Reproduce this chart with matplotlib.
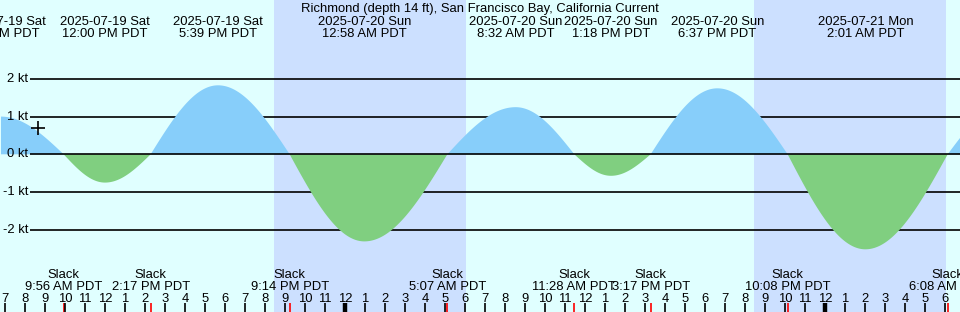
import numpy as np
import matplotlib
matplotlib.use("Agg")
import matplotlib.pyplot as plt
import matplotlib.transforms as mtransforms
from datetime import datetime, timedelta

# ---------------- data ----------------
title = "Richmond (depth 14 ft), San Francisco Bay, California Current"
t0 = datetime(2025, 7, 19, 0, 0)
view_start = "2025-07-19 06:45"
view_end = "2025-07-21 06:45"

# current extremes (flood +, ebb -) and slack waters
extreme_times = ["2025-07-19 06:48", "2025-07-19 12:00", "2025-07-19 17:39",
                 "2025-07-20 00:58", "2025-07-20 08:32", "2025-07-20 13:18",
                 "2025-07-20 18:37", "2025-07-21 02:01", "2025-07-21 09:20"]
extreme_values = [1.00, -0.75, 1.83, -2.31, 1.25, -0.57, 1.75, -2.52, 1.45]
slack_times = ["2025-07-19 09:56", "2025-07-19 14:17", "2025-07-19 21:14",
               "2025-07-20 05:07", "2025-07-20 11:28", "2025-07-20 15:17",
               "2025-07-20 22:08", "2025-07-21 06:08"]
sunsets = ["2025-07-19 20:27", "2025-07-20 20:27"]
sunrises = ["2025-07-20 06:03", "2025-07-21 06:03"]
marker_time = "2025-07-19 08:39"
marker_value = 0.69
grid_levels = [2, 1, 0, -1, -2]

# ---------------- helpers ----------------
def parse(s):
    return datetime.strptime(s, "%Y-%m-%d %H:%M")

def hrs(s):
    return (parse(s) - t0).total_seconds() / 3600.0

def fmt_time(d):
    h = d.hour % 12
    if h == 0:
        h = 12
    return f"{h}:{d.minute:02d} {'AM' if d.hour < 12 else 'PM'} PDT"

# build piecewise-sine current curve from events
events = sorted([(hrs(s), v) for s, v in zip(extreme_times, extreme_values)] +
                [(hrs(s), 0.0) for s in slack_times])
ev_t = np.array([e[0] for e in events])
ev_v = np.array([e[1] for e in events])
tt = np.linspace(ev_t[0], ev_t[-1], 4000)
vv = np.zeros_like(tt)
for i in range(len(ev_t) - 1):
    a, b = ev_t[i], ev_t[i + 1]
    m = (tt >= a) & (tt <= b)
    f = (tt[m] - a) / (b - a)
    if ev_v[i] == 0:
        vv[m] = ev_v[i + 1] * np.sin(np.pi / 2 * f)
    else:
        vv[m] = ev_v[i] * np.cos(np.pi / 2 * f)

# ---------------- figure ----------------
W, H = 960, 312
FS = 9.4
plt.rcParams['font.family'] = ['Liberation Sans', 'DejaVu Sans']
fig = plt.figure(figsize=(W / 100, H / 100), dpi=100)
ax = fig.add_axes([0, 0, 1, 1])
ax.set_axis_off()

x0, x1 = hrs(view_start), hrs(view_end)
px_per_kt = 37.7
zero_px = 154.3
ax.set_xlim(x0, x1)
ax.set_ylim((zero_px - H) / px_per_kt, zero_px / px_per_kt)

bg = "#e0ffff"
night = "#cce0ff"
flood = "#87cefa"
ebb = "#80cf80"
fig.patch.set_facecolor(bg)
ax.add_patch(plt.Rectangle((0, 0), 1, 1, transform=ax.transAxes, color=bg, zorder=0))

for s, r in zip(sunsets, sunrises):
    ax.axvspan(hrs(s), hrs(r), color=night, zorder=1, lw=0)

trans = mtransforms.blended_transform_factory(ax.transData, ax.transAxes)
def yf(p):
    return 1 - p / H

# grid lines
for g in grid_levels:
    ax.plot([x0 + 30 / 20, x1], [g, g], color="black", lw=1.2, zorder=2 if g != 0 else 4,
            solid_capstyle="butt")
    ax.text(x0 + 28 / 20, g, f"{g} kt", ha="right", va="center", fontsize=FS, zorder=5)

ax.fill_between(tt, 0, vv, where=vv >= 0, interpolate=True, color=flood, lw=0, zorder=3)
ax.fill_between(tt, 0, vv, where=vv <= 0, interpolate=True, color=ebb, lw=0, zorder=3)

ax.plot([hrs(marker_time)], [marker_value], marker="+", color="black", ms=10, mew=1.2, zorder=6)

# title
ax.text(0.5, yf(12), title, transform=ax.transAxes, ha="center", va="baseline", fontsize=FS)

# extreme labels (only those inside the view)
for s in extreme_times:
    d = parse(s)
    t = hrs(s)
    if t > x1:
        continue
    ax.text(t, yf(25), d.strftime("%Y-%m-%d %a"), transform=trans, ha="center",
            va="baseline", fontsize=FS, zorder=6)
    ax.text(t, yf(37), fmt_time(d), transform=trans, ha="center",
            va="baseline", fontsize=FS, zorder=6)

# slack labels + red ticks
for s in slack_times:
    d = parse(s)
    t = hrs(s)
    ax.text(t, yf(278.5), "Slack", transform=trans, ha="center", va="baseline", fontsize=FS, zorder=6)
    ax.text(t, yf(290), fmt_time(d), transform=trans, ha="center", va="baseline", fontsize=FS, zorder=6)
    ax.plot([t, t], [yf(303), yf(312)], transform=trans, color="red", lw=1.2, zorder=6,
            solid_capstyle="butt")

# hour ticks
start = parse(view_start).replace(minute=0) + timedelta(hours=1)
d = start
while d < parse(view_end):
    t = (d - t0).total_seconds() / 3600.0
    h = d.hour % 12
    if h == 0:
        h = 12
    ax.text(t, yf(302), str(h), transform=trans, ha="center", va="baseline", fontsize=FS, zorder=6)
    ax.plot([t, t], [yf(303), yf(312)], transform=trans, color="black",
            lw=3.2 if d.hour == 0 else 1.2, zorder=6, solid_capstyle="butt")
    d += timedelta(hours=1)

fig.savefig("out.png", dpi=100, facecolor=bg)
